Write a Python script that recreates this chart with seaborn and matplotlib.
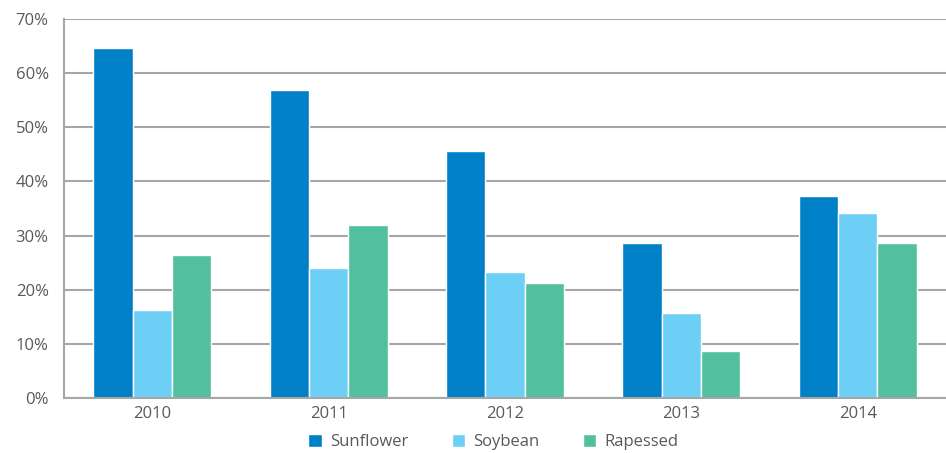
import numpy as np
import pandas as pd
import matplotlib
matplotlib.use("Agg")
import matplotlib.pyplot as plt
import seaborn as sns
from matplotlib.ticker import PercentFormatter, FixedLocator

# data
years = ["2010", "2011", "2012", "2013", "2014"]
sunflower = [64.6, 56.9, 45.6, 28.6, 37.3]
soybean = [16.3, 24.0, 23.3, 15.7, 34.2]
rapessed = [26.4, 32.0, 21.2, 8.7, 28.6]
crops = ["Sunflower", "Soybean", "Rapessed"]
colors = ["#0080C6", "#6DCFF6", "#52BF9E"]

df = pd.DataFrame({
    "year": years * 3,
    "crop": [c for c in crops for _ in years],
    "share": sunflower + soybean + rapessed,
})

sns.set_style("white")
plt.rcParams["font.family"] = ["Open Sans", "DejaVu Sans"]
text_col = "#595959"
grid_col = "#A6A6A6"

fig = plt.figure(figsize=(9.46, 4.53), dpi=100)
ax = fig.add_axes([64 / 946, 1 - 398 / 453, 1 - 64 / 946, (398 - 19) / 453])

sns.barplot(data=df, x="year", y="share", hue="crop", hue_order=crops,
            palette=colors, width=0.67, saturation=1, ax=ax, legend=True)

ax.set_ylim(0, 70)
ax.set_xlim(-0.5, 4.5)
ax.set_yticks(np.arange(0, 71, 10))
ax.yaxis.set_major_formatter(PercentFormatter(decimals=0))
ax.yaxis.grid(True, color=grid_col, linewidth=1.5)
ax.set_axisbelow(True)
ax.set_xlabel("")
ax.set_ylabel("")

for s in ["top", "right"]:
    ax.spines[s].set_visible(False)
for s in ["left", "bottom"]:
    ax.spines[s].set_color(grid_col)
    ax.spines[s].set_linewidth(1.5)

ax.tick_params(axis="y", length=7, width=1.5, color=grid_col, labelcolor=text_col,
               labelsize=12, pad=4)
ax.tick_params(axis="x", which="major", length=0, labelcolor=text_col,
               labelsize=12, pad=6)
ax.xaxis.set_minor_locator(FixedLocator([-0.5, 0.5, 1.5, 2.5, 3.5, 4.5]))
ax.tick_params(axis="x", which="minor", length=7, width=1.5, color=grid_col)

leg = ax.legend(loc="upper center", bbox_to_anchor=(0.487, -0.086), ncol=3,
                frameon=False, handlelength=0.8, handleheight=0.8,
                handletextpad=0.5, columnspacing=2.6, fontsize=12,
                borderaxespad=0, borderpad=0.2)
for t in leg.get_texts():
    t.set_color(text_col)

fig.savefig("out.png", dpi=100)
